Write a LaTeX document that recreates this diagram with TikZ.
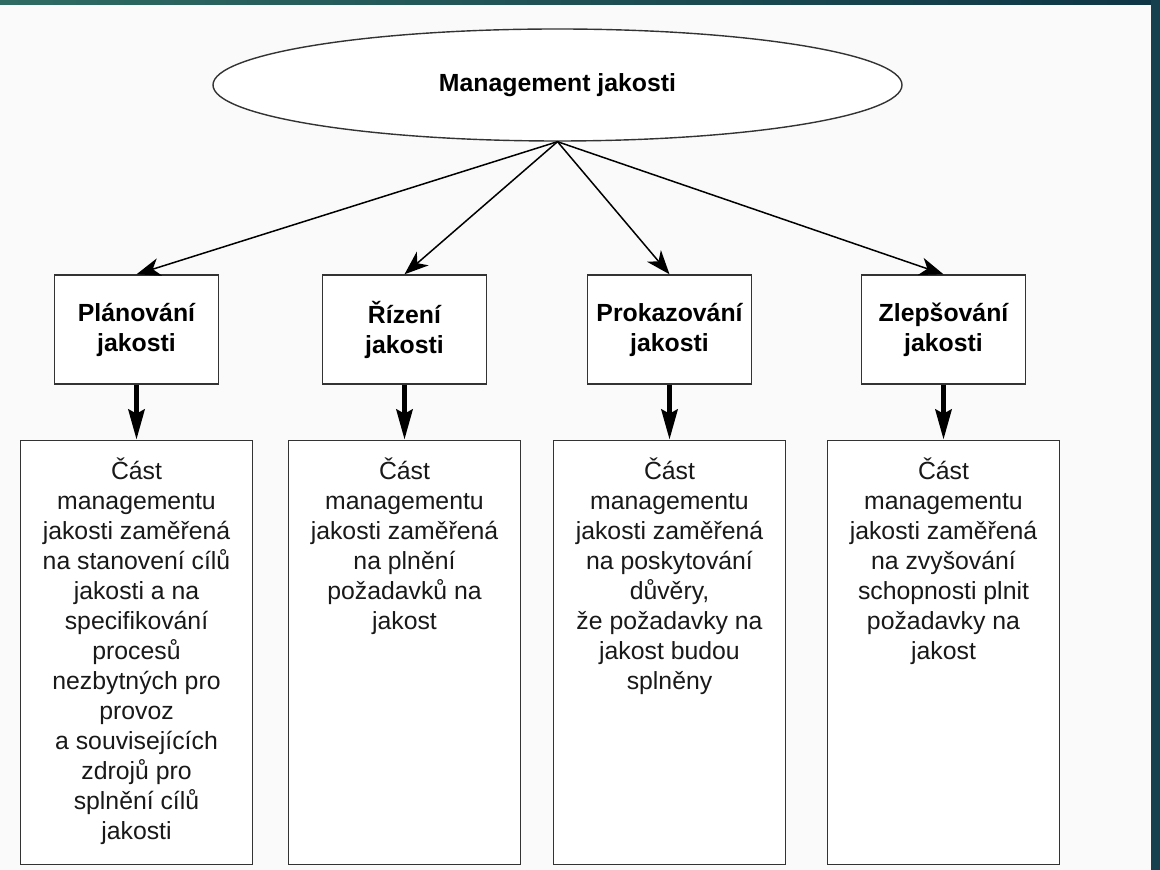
\documentclass[tikz,border=0pt]{standalone}
\usepackage{fontspec}
\setmainfont{Liberation Sans}
\usetikzlibrary{shapes.geometric,arrows.meta,positioning}
\definecolor{barleft}{HTML}{2F6B63}
\definecolor{barright}{HTML}{0E3545}
\definecolor{sidebar}{HTML}{16404D}
\definecolor{pagebg}{HTML}{FAFAFA}
\newcommand{\diafont}{\fontsize{12.4}{15}\selectfont}
\tikzset
{
  rootnode/.style = {ellipse, draw=black!80, fill=white, line width=0.7pt, minimum width=344.5pt, minimum height=56pt, inner sep=0pt, font=\diafont\bfseries},
  headbox/.style  = {rectangle, draw=black!80, fill=white, line width=0.7pt, minimum width=82pt, minimum height=54.5pt, inner sep=0pt, align=center, font=\diafont\bfseries},
  descbox/.style  = {rectangle, draw=black!80, fill=white, line width=0.7pt, minimum width=116pt, minimum height=212pt, inner sep=0pt},
  desctext/.style = {inner sep=0pt, align=center, font=\diafont, text=black!90},
  bigarrow/.style = {line width=2.6pt, -{Stealth[length=15pt,width=8pt,inset=2pt]}}
}

\begin{document}
\begin{tikzpicture}[x=0.5pt,y=-0.5pt,->,>={Stealth[length=12pt,width=9pt,inset=3.5pt]},line width=0.75pt,node distance=27.5pt]
  % page and frame
  \useasboundingbox (0,0) rectangle (1160,870);
  \fill[pagebg] (0,0) rectangle (1160,870);
  \shade[left color=barleft, right color=barright] (0,0) rectangle (1160,5);
  \fill[sidebar] (1151,0) rectangle (1160,870);

  \node [rootnode] (mgmt) at (557.5,85) {Management jakosti};

  \node [headbox] (plan)   at (136.5,329.5) {Plánování\\jakosti};
  \node [headbox] (rizeni) at (404.5,329.5) {Řízení\\jakosti};
  \node [headbox] (prokaz) at (669.5,329.5) {Prokazování\\jakosti};
  \node [headbox] (zleps)  at (943.5,329.5) {Zlepšování\\jakosti};

  \node [descbox, below=of plan]   (planD)   {};
  \node [descbox, below=of rizeni] (rizeniD) {};
  \node [descbox, below=of prokaz] (prokazD) {};
  \node [descbox, below=of zleps]  (zlepsD)  {};

  \node [desctext, below=8.5pt of planD.north] (planT)
    {Část\\managementu\\jakosti zaměřená\\na stanovení cílů\\jakosti a na\\specifikování\\procesů\\nezbytných pro\\provoz\\a souvisejících\\zdrojů pro\\splnění cílů\\jakosti};
  \node [desctext, below=8.5pt of rizeniD.north] (rizeniT)
    {Část\\managementu\\jakosti zaměřená\\na plnění\\požadavků na\\jakost};
  \node [desctext, below=8.5pt of prokazD.north] (prokazT)
    {Část\\managementu\\jakosti zaměřená\\na poskytování\\důvěry,\\že požadavky na\\jakost budou\\splněny};
  \node [desctext, below=8.5pt of zlepsD.north] (zlepsT)
    {Část\\managementu\\jakosti zaměřená\\na zvyšování\\schopnosti plnit\\požadavky na\\jakost};

  % arrows
  \draw (mgmt.south) -- (plan.north);
  \draw (mgmt.south) -- (rizeni.north);
  \draw (mgmt.south) -- (prokaz.north);
  \draw (mgmt.south) -- (zleps.north);

  \draw [bigarrow] (plan)   -- (planD);
  \draw [bigarrow] (rizeni) -- (rizeniD);
  \draw [bigarrow] (prokaz) -- (prokazD);
  \draw [bigarrow] (zleps)  -- (zlepsD);
\end{tikzpicture}
\end{document}
